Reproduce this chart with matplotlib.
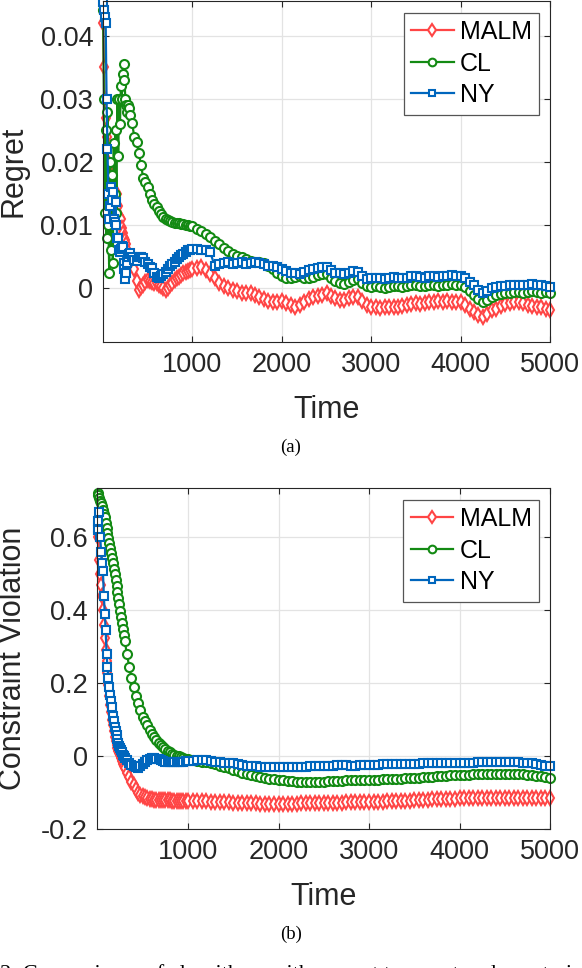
import numpy as np
import matplotlib
matplotlib.use('Agg')
import matplotlib.pyplot as plt
from matplotlib.ticker import FuncFormatter

plt.rcParams['font.family'] = ['Liberation Sans', 'DejaVu Sans']

# time grid: every 10 steps at the start, every 25 up to 1000, then every 50
time_early = list(range(10, 301, 10))
time_mid = list(range(325, 1001, 25))
time_late = list(range(1050, 5001, 50))
time = [1] + time_early + time_mid + time_late

# ---- (a) regret ----
regret_malm = [
    0.0420, 0.0350, 0.0300, 0.0270, 0.0240, 0.0220, 0.0200, 0.0190, 0.0185, 0.0180,
    0.0170, 0.0160, 0.0155, 0.0150, 0.0145, 0.0150, 0.0150, 0.0130, 0.0115, 0.0112,
    0.0110, 0.0095, 0.0088, 0.0080, 0.0078, 0.0076, 0.0070, 0.0060, 0.0050, 0.0046,
    0.0044,
    # 325 .. 1000
    0.0040, 0.0030, 0.0012, -0.0003, 0.0002, 0.0005, 0.0010, 0.0013, 0.0012, 0.0010,
    0.0009, 0.0008, 0.0006, 0.0004, 0.0000, -0.0003, 0.0001, 0.0005, 0.0009, 0.0013,
    0.0016, 0.0018, 0.0021, 0.0024, 0.0026, 0.0028, 0.0029, 0.0030,
    # 1050 .. 5000
    0.0032, 0.0034, 0.0029, 0.0023, 0.0016, 0.0009, 0.0004, 0.0001, -0.0003, -0.0005,
    -0.0007, -0.0008, -0.0008, -0.0010, -0.0013, -0.0017, -0.0020, -0.0021, -0.0022, -0.0020,
    -0.0024, -0.0027, -0.0030, -0.0027, -0.0022, -0.0017, -0.0014, -0.0012, -0.0010, -0.0008,
    -0.0012, -0.0016, -0.0018, -0.0019, -0.0016, -0.0014, -0.0014, -0.0020, -0.0027, -0.0030,
    -0.0030, -0.0031, -0.0030, -0.0029, -0.0030, -0.0030, -0.0028, -0.0027, -0.0025, -0.0024,
    -0.0025, -0.0024, -0.0022, -0.0021, -0.0020, -0.0021, -0.0020, -0.0021, -0.0022, -0.0022,
    -0.0026, -0.0032, -0.0038, -0.0043, -0.0045, -0.0040, -0.0035, -0.0032, -0.0028, -0.0025,
    -0.0023, -0.0022, -0.0022, -0.0024, -0.0026, -0.0028, -0.0029, -0.0030, -0.0032, -0.0035]
regret_cl = [
    0.0440, 0.0300, 0.0120, 0.0250, 0.0080, 0.0280, 0.0100, 0.0025, 0.0200, 0.0060,
    0.0180, 0.0040, 0.0230, 0.0150, 0.0250, 0.0120, 0.0300, 0.0210, 0.0300, 0.0260,
    0.0320, 0.0300, 0.0340, 0.0355, 0.0330, 0.0300, 0.0290, 0.0280, 0.0290, 0.0285,
    0.0275,
    # 325 .. 1000
    0.0262, 0.0240, 0.0232, 0.0215, 0.0195, 0.0175, 0.0168, 0.0160, 0.0150, 0.0140,
    0.0133, 0.0128, 0.0122, 0.0118, 0.0113, 0.0110, 0.0108, 0.0106, 0.0105, 0.0104,
    0.0103, 0.0103, 0.0102, 0.0102, 0.0101, 0.0101, 0.0099, 0.0098,
    # 1050 .. 5000
    0.0094, 0.0090, 0.0086, 0.0081, 0.0075, 0.0070, 0.0064, 0.0059, 0.0054, 0.0051,
    0.0049, 0.0047, 0.0044, 0.0042, 0.0041, 0.0040, 0.0036, 0.0030, 0.0024, 0.0019,
    0.0017, 0.0016, 0.0018, 0.0020, 0.0017, 0.0016, 0.0018, 0.0021, 0.0022, 0.0023,
    0.0017, 0.0011, 0.0008, 0.0007, 0.0010, 0.0013, 0.0014, 0.0008, 0.0003, 0.0002,
    0.0003, 0.0002, 0.0001, 0.0002, 0.0004, 0.0003, 0.0002, 0.0003, 0.0005, 0.0006,
    0.0004, 0.0003, 0.0005, 0.0006, 0.0004, 0.0005, 0.0006, 0.0007, 0.0005, 0.0006,
    0.0002, -0.0004, -0.0010, -0.0017, -0.0022, -0.0018, -0.0013, -0.0011, -0.0009, -0.0008,
    -0.0007, -0.0006, -0.0006, -0.0007, -0.0006, -0.0005, -0.0006, -0.0007, -0.0006, -0.0008]
regret_ny = [
    0.0453, 0.0440, 0.0430, 0.0420, 0.0300, 0.0220, 0.0150, 0.0110, 0.0130, 0.0160,
    0.0140, 0.0152, 0.0110, 0.0105, 0.0136, 0.0100, 0.0080, 0.0079, 0.0060, 0.0058,
    0.0062, 0.0067, 0.0065, 0.0040, 0.0030, 0.0015, 0.0025, 0.0040, 0.0050, 0.0055,
    0.0056,
    # 325 .. 1000
    0.0050, 0.0045, 0.0044, 0.0050, 0.0049, 0.0048, 0.0042, 0.0038, 0.0034, 0.0032,
    0.0024, 0.0018, 0.0016, 0.0020, 0.0023, 0.0026, 0.0031, 0.0036, 0.0039, 0.0042,
    0.0046, 0.0050, 0.0053, 0.0055, 0.0058, 0.0060, 0.0061, 0.0062,
    # 1050 .. 5000
    0.0063, 0.0061, 0.0060, 0.0057, 0.0035, 0.0038, 0.0040, 0.0041, 0.0039, 0.0040,
    0.0041, 0.0039, 0.0040, 0.0041, 0.0040, 0.0038, 0.0036, 0.0035, 0.0034, 0.0031,
    0.0027, 0.0025, 0.0024, 0.0023, 0.0026, 0.0029, 0.0031, 0.0032, 0.0033, 0.0034,
    0.0029, 0.0025, 0.0024, 0.0023, 0.0025, 0.0027, 0.0026, 0.0020, 0.0015, 0.0016,
    0.0017, 0.0016, 0.0015, 0.0016, 0.0018, 0.0017, 0.0016, 0.0017, 0.0019, 0.0020,
    0.0018, 0.0017, 0.0019, 0.0020, 0.0018, 0.0019, 0.0020, 0.0021, 0.0019, 0.0020,
    0.0016, 0.0010, 0.0005, -0.0002, -0.0008, -0.0004, 0.0000, 0.0002, 0.0003, 0.0004,
    0.0005, 0.0006, 0.0006, 0.0005, 0.0006, 0.0007, 0.0006, 0.0005, 0.0004, 0.0002]

# ---- (b) constraint violation ----
viol_malm = [
    0.615, 0.600, 0.537, 0.500, 0.470, 0.440, 0.400, 0.360, 0.325, 0.290,
    0.260, 0.228, 0.195, 0.165, 0.140, 0.120, 0.100, 0.085, 0.068, 0.052,
    0.040, 0.030, 0.022, 0.014, 0.008, 0.002, -0.006, -0.014, -0.021, -0.027,
    -0.033,
    # 325 .. 1000
    -0.046, -0.058, -0.070, -0.080, -0.091, -0.100, -0.106, -0.110, -0.113, -0.116,
    -0.118, -0.119, -0.120, -0.120, -0.121, -0.121, -0.121, -0.121, -0.121, -0.121,
    -0.122, -0.122, -0.122, -0.122, -0.122, -0.122, -0.123, -0.123,
    # 1050 .. 5000
    -0.123, -0.123, -0.124, -0.124, -0.125, -0.125, -0.126, -0.127, -0.127, -0.128,
    -0.128, -0.129, -0.129, -0.130, -0.130, -0.131, -0.131, -0.131, -0.131, -0.131,
    -0.131, -0.131, -0.131, -0.131, -0.130, -0.130, -0.130, -0.129, -0.129, -0.129,
    -0.128, -0.128, -0.128, -0.128, -0.127, -0.127, -0.127, -0.126, -0.126, -0.126,
    -0.125, -0.125, -0.125, -0.124, -0.124, -0.123, -0.123, -0.122, -0.122, -0.121,
    -0.121, -0.120, -0.120, -0.119, -0.119, -0.118, -0.118, -0.117, -0.117, -0.116,
    -0.116, -0.115, -0.115, -0.115, -0.114, -0.114, -0.114, -0.114, -0.114, -0.114,
    -0.114, -0.114, -0.114, -0.114, -0.115, -0.115, -0.115, -0.115, -0.115, -0.115]
viol_cl = [
    0.720, 0.715, 0.708, 0.700, 0.693, 0.685, 0.675, 0.664, 0.655, 0.640,
    0.626, 0.611, 0.597, 0.583, 0.570, 0.556, 0.542, 0.528, 0.514, 0.498,
    0.483, 0.467, 0.450, 0.433, 0.416, 0.399, 0.382, 0.365, 0.348, 0.332,
    0.316,
    # 325 .. 1000
    0.280, 0.245, 0.215, 0.190, 0.166, 0.145, 0.125, 0.108, 0.096, 0.085,
    0.072, 0.060, 0.051, 0.043, 0.036, 0.030, 0.024, 0.019, 0.014, 0.010,
    0.007, 0.004, 0.001, -0.001, -0.003, -0.005, -0.007, -0.008,
    # 1050 .. 5000
    -0.011, -0.013, -0.015, -0.017, -0.019, -0.022, -0.026, -0.030, -0.034, -0.038,
    -0.042, -0.046, -0.050, -0.053, -0.056, -0.058, -0.060, -0.062, -0.064, -0.066,
    -0.067, -0.068, -0.069, -0.070, -0.070, -0.071, -0.071, -0.071, -0.070, -0.070,
    -0.069, -0.069, -0.068, -0.068, -0.067, -0.067, -0.067, -0.066, -0.066, -0.066,
    -0.065, -0.065, -0.064, -0.064, -0.063, -0.063, -0.062, -0.061, -0.061, -0.060,
    -0.059, -0.058, -0.057, -0.057, -0.056, -0.055, -0.054, -0.053, -0.053, -0.052,
    -0.051, -0.051, -0.050, -0.050, -0.050, -0.049, -0.049, -0.049, -0.049, -0.049,
    -0.049, -0.049, -0.050, -0.050, -0.051, -0.052, -0.054, -0.056, -0.058, -0.060]
viol_ny = [
    0.620, 0.645, 0.668, 0.600, 0.560, 0.530, 0.507, 0.440, 0.390, 0.345,
    0.280, 0.245, 0.215, 0.190, 0.168, 0.150, 0.135, 0.110, 0.095, 0.080,
    0.068, 0.058, 0.048, 0.036, 0.028, 0.022, 0.016, 0.010, 0.004, 0.000,
    -0.004,
    # 325 .. 1000
    -0.012, -0.018, -0.024, -0.028, -0.031, -0.032, -0.028, -0.022, -0.016, -0.012,
    -0.008, -0.006, -0.006, -0.007, -0.009, -0.011, -0.013, -0.015, -0.016, -0.016,
    -0.016, -0.016, -0.016, -0.016, -0.015, -0.015, -0.014, -0.014,
    # 1050 .. 5000
    -0.013, -0.012, -0.011, -0.012, -0.014, -0.016, -0.017, -0.018, -0.019, -0.020,
    -0.022, -0.024, -0.026, -0.027, -0.028, -0.029, -0.030, -0.031, -0.031, -0.030,
    -0.030, -0.029, -0.029, -0.030, -0.030, -0.029, -0.028, -0.027, -0.027, -0.026,
    -0.026, -0.026, -0.025, -0.025, -0.025, -0.026, -0.026, -0.025, -0.025, -0.024,
    -0.024, -0.024, -0.023, -0.023, -0.023, -0.022, -0.022, -0.022, -0.021, -0.021,
    -0.021, -0.020, -0.020, -0.020, -0.020, -0.019, -0.019, -0.019, -0.019, -0.019,
    -0.018, -0.018, -0.018, -0.017, -0.017, -0.017, -0.016, -0.016, -0.016, -0.016,
    -0.016, -0.016, -0.017, -0.018, -0.019, -0.020, -0.022, -0.024, -0.026, -0.027]

labels = ['MALM', 'CL', 'NY']
colors = ['#FF4545', '#138A13', '#0066BD']
markers = ['d', 'o', 's']
msizes = [7.5, 6.5, 5.5]

for s in (regret_malm, regret_cl, regret_ny, viol_malm, viol_cl, viol_ny):
    assert len(s) == len(time), len(s)

fig = plt.figure(figsize=(5.82, 9.68), dpi=100)
ax1 = fig.add_axes([103 / 582, 626 / 968, 447 / 582, 341 / 968])
ax2 = fig.add_axes([97.5 / 582, 139 / 968, 452.5 / 582, 341 / 968])

fmt = FuncFormatter(lambda v, p: f'{v:g}')
dark = '#262626'


def style_axis(ax, yticks, ylim, ylabel, ylab_x):
    ax.set_xlim(0, 5000)
    ax.set_ylim(*ylim)
    ax.set_xticks([1000, 2000, 3000, 4000, 5000])
    ax.set_yticks(yticks)
    ax.yaxis.set_major_formatter(fmt)
    ax.grid(True, color='#e3e3e3', linewidth=0.9)
    ax.set_axisbelow(True)
    ax.tick_params(direction='in', top=True, right=True, length=4.5,
                   width=0.8, colors=dark, labelsize=19.5, pad=7)
    for sp in ax.spines.values():
        sp.set_color(dark)
        sp.set_linewidth(0.8)
    ax.set_xlabel('Time', fontsize=22, color=dark)
    ax.xaxis.label.set_va('center')
    ax.xaxis.set_label_coords(0.5, -0.2)
    ax.set_ylabel(ylabel, fontsize=22, color=dark)
    ax.yaxis.label.set_va('center')
    ax.yaxis.set_label_coords(ylab_x, 0.5)


def draw(ax, series):
    for ys, lab, c, m, ms in zip(series, labels, colors, markers, msizes):
        ax.plot(time, ys, color=c, marker=m, markersize=ms, markerfacecolor='white',
                markeredgecolor=c, markeredgewidth=1.5, linewidth=1.6,
                label=lab, clip_on=False)
    leg = ax.legend(loc='upper right', bbox_to_anchor=(0.976, 0.966), borderaxespad=0,
                    fontsize=18, fancybox=False, framealpha=1, edgecolor='#555555',
                    handlelength=1.7, handletextpad=0.25, labelspacing=0.3,
                    borderpad=0.3, markerscale=0.85)
    leg.get_frame().set_linewidth(0.9)


draw(ax1, [regret_malm, regret_cl, regret_ny])
style_axis(ax1, [0, 0.01, 0.02, 0.03, 0.04], (-0.0085, 0.0455), 'Regret', -0.2)

draw(ax2, [viol_malm, viol_cl, viol_ny])
style_axis(ax2, [-0.2, 0, 0.2, 0.4, 0.6], (-0.2, 0.735), 'Constraint Violation', -0.186)

fig.text(0.5, (968 - 447) / 968, '(a)', ha='center', va='center',
         fontsize=13.5, family='Liberation Serif')
fig.text(0.5, (968 - 934) / 968, '(b)', ha='center', va='center',
         fontsize=13.5, family='Liberation Serif')
# caption line of the paper, cut by the bottom edge as in the source image
fig.text(0.0, -0.011, '2: Comparisons of algorithms with respect to regret and constraint violation.',
         ha='left', va='baseline', fontsize=16, family='Liberation Serif')

fig.savefig('out.png', dpi=100)
